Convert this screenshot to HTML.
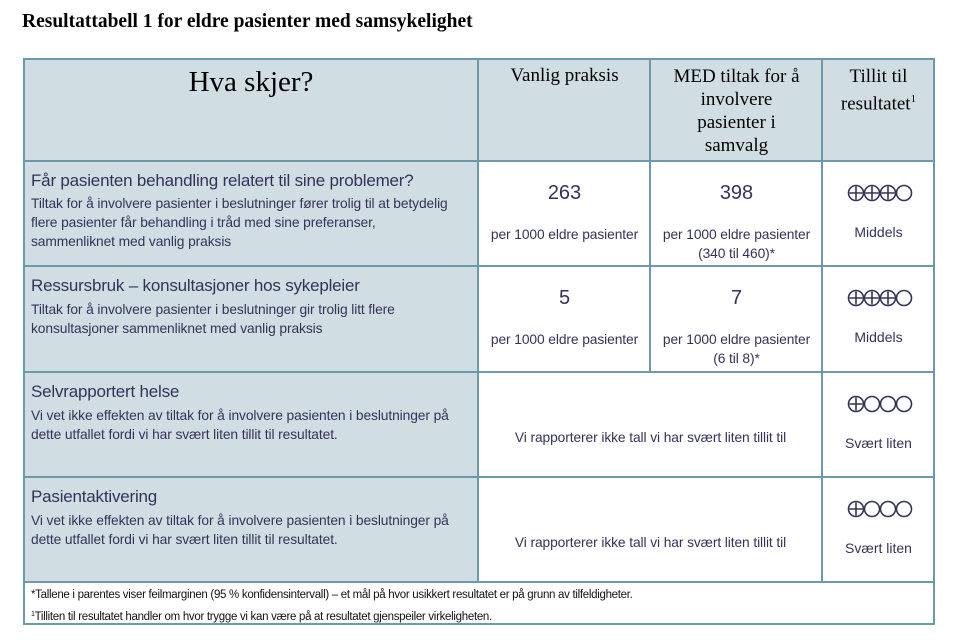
<!DOCTYPE html>
<html><head><meta charset="utf-8"><style>
body{margin:0;width:959px;height:640px;background:#fff;position:relative;overflow:hidden;font-family:"Liberation Sans",sans-serif;color:#3a3a5a}
.a{position:absolute;box-sizing:border-box}
.bl{background:#d0dde3}
.t{position:absolute;white-space:nowrap}
.ser{font-family:"Liberation Serif",serif;color:#000}
.c{text-align:center}
.q{font-size:17px;color:#33335a;letter-spacing:-0.2px}
.s{font-size:13.8px;line-height:19px;color:#33335a;letter-spacing:-0.1px}
.num{font-size:20px;color:#33335a}
.m{font-size:14px;color:#33335a}
svg.cc{position:absolute}
</style></head><body>
<div class="t ser" style="left:22px;top:11px;font-size:19.5px;font-weight:bold">Resultattabell 1 for eldre pasienter med samsykelighet</div>
<div class="a bl" style="left:23px;top:58px;width:911px;height:103px"></div>
<div class="a bl" style="left:23px;top:160px;width:456px;height:422px"></div>
<div class="a" style="left:23px;top:58px;width:912px;height:567px;border:2px solid #6b9aaa"></div>
<div class="a" style="left:23px;top:160px;width:912px;height:2px;background:#6b9aaa"></div>
<div class="a" style="left:23px;top:265px;width:912px;height:2px;background:#6b9aaa"></div>
<div class="a" style="left:23px;top:371px;width:912px;height:2px;background:#6b9aaa"></div>
<div class="a" style="left:23px;top:476px;width:912px;height:2px;background:#6b9aaa"></div>
<div class="a" style="left:23px;top:581px;width:912px;height:2px;background:#6b9aaa"></div>
<div class="a" style="left:477px;top:58px;width:2px;height:524px;background:#6b9aaa"></div>
<div class="a" style="left:649px;top:58px;width:2px;height:314px;background:#6b9aaa"></div>
<div class="a" style="left:821px;top:58px;width:2px;height:524px;background:#6b9aaa"></div>
<div class="t ser c" style="left:23px;width:456px;top:66px;font-size:29px">Hva skjer?</div>
<div class="t ser c" style="left:479px;width:171px;top:65px;font-size:19px">Vanlig praksis</div>
<div class="t ser c" style="left:651px;width:171px;top:65px;font-size:19px;line-height:23px">MED tiltak for å<br>involvere<br>pasienter i<br>samvalg</div>
<div class="t ser c" style="left:823px;width:111px;top:65px;font-size:19px;line-height:23px">Tillit til<br>resultatet<sup style="font-size:11px">1</sup></div>

<div class="t q" style="left:31px;top:171px">Får pasienten behandling relatert til sine problemer?</div>
<div class="t s" style="left:31px;top:194px">Tiltak for å involvere pasienter i beslutninger fører trolig til at betydelig<br>flere pasienter får behandling i tråd med sine preferanser,<br>sammenliknet med vanlig praksis</div>
<div class="t num c" style="left:479px;width:171px;top:182px">263</div>
<div class="t s c" style="left:479px;width:171px;top:225px">per 1000 eldre pasienter</div>
<div class="t num c" style="left:651px;width:171px;top:182px">398</div>
<div class="t s c" style="left:651px;width:171px;top:225px">per 1000 eldre pasienter<br>(340 til 460)*</div>
<svg class="cc" style="left:847px;top:183px" width="68" height="20"><g fill="none" stroke="#33335a" stroke-width="1.6"><circle cx="9" cy="10" r="7.5"/><circle cx="25" cy="10" r="7.5"/><circle cx="41" cy="10" r="7.5"/><circle cx="57" cy="10" r="7.5"/><path d="M9 3.5v13M2.5 10h13M25 3.5v13M18.5 10h13M41 3.5v13M34.5 10h13"/></g></svg>
<div class="t m c" style="left:823px;width:111px;top:224px">Middels</div>

<div class="t q" style="left:31px;top:276px">Ressursbruk – konsultasjoner hos sykepleier</div>
<div class="t s" style="left:31px;top:300px">Tiltak for å involvere pasienter i beslutninger gir trolig litt flere<br>konsultasjoner sammenliknet med vanlig praksis</div>
<div class="t num c" style="left:479px;width:171px;top:287px">5</div>
<div class="t s c" style="left:479px;width:171px;top:330px">per 1000 eldre pasienter</div>
<div class="t num c" style="left:651px;width:171px;top:287px">7</div>
<div class="t s c" style="left:651px;width:171px;top:330px">per 1000 eldre pasienter<br>(6 til 8)*</div>
<svg class="cc" style="left:847px;top:288px" width="68" height="20"><g fill="none" stroke="#33335a" stroke-width="1.6"><circle cx="9" cy="10" r="7.5"/><circle cx="25" cy="10" r="7.5"/><circle cx="41" cy="10" r="7.5"/><circle cx="57" cy="10" r="7.5"/><path d="M9 3.5v13M2.5 10h13M25 3.5v13M18.5 10h13M41 3.5v13M34.5 10h13"/></g></svg>
<div class="t m c" style="left:823px;width:111px;top:329px">Middels</div>

<div class="t q" style="left:31px;top:382px">Selvrapportert helse</div>
<div class="t s" style="left:31px;top:406px">Vi vet ikke effekten av tiltak for å involvere pasienten i beslutninger på<br>dette utfallet fordi vi har svært liten tillit til resultatet.</div>
<div class="t s c" style="left:479px;width:343px;top:428px">Vi rapporterer ikke tall vi har svært liten tillit til</div>
<svg class="cc" style="left:847px;top:394px" width="68" height="20"><g fill="none" stroke="#33335a" stroke-width="1.6"><circle cx="9" cy="10" r="7.5"/><circle cx="25" cy="10" r="7.5"/><circle cx="41" cy="10" r="7.5"/><circle cx="57" cy="10" r="7.5"/><path d="M9 3.5v13M2.5 10h13"/></g></svg>
<div class="t m c" style="left:823px;width:111px;top:435px">Svært liten</div>

<div class="t q" style="left:31px;top:487px">Pasientaktivering</div>
<div class="t s" style="left:31px;top:511px">Vi vet ikke effekten av tiltak for å involvere pasienten i beslutninger på<br>dette utfallet fordi vi har svært liten tillit til resultatet.</div>
<div class="t s c" style="left:479px;width:343px;top:533px">Vi rapporterer ikke tall vi har svært liten tillit til</div>
<svg class="cc" style="left:847px;top:499px" width="68" height="20"><g fill="none" stroke="#33335a" stroke-width="1.6"><circle cx="9" cy="10" r="7.5"/><circle cx="25" cy="10" r="7.5"/><circle cx="41" cy="10" r="7.5"/><circle cx="57" cy="10" r="7.5"/><path d="M9 3.5v13M2.5 10h13"/></g></svg>
<div class="t m c" style="left:823px;width:111px;top:540px">Svært liten</div>

<div class="t" style="left:31px;top:586px;font-size:11.5px;letter-spacing:-0.3px;color:#111;line-height:19px">*Tallene i parentes viser feilmarginen (95 % konfidensintervall) – et mål på hvor usikkert resultatet er på grunn av tilfeldigheter.</div>
<div class="t" style="left:31px;top:605px;font-size:11.5px;letter-spacing:-0.3px;color:#111;line-height:19px"><span style="font-size:7px;vertical-align:4px">1</span>Tilliten til resultatet handler om hvor trygge vi kan være på at resultatet gjenspeiler virkeligheten.</div>
</body></html>
